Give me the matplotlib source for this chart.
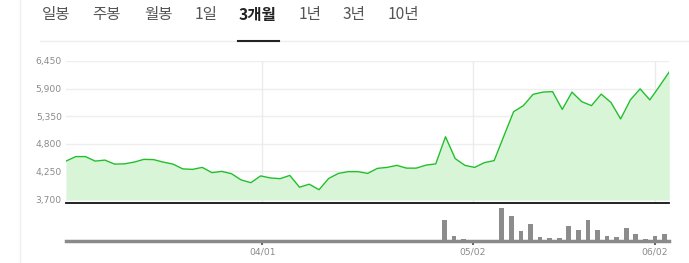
import matplotlib
matplotlib.use("Agg")
import matplotlib.pyplot as plt
import numpy as np
from matplotlib.lines import Line2D

# ---------------- data ----------------
tabs = ["일봉", "주봉", "월봉", "1일", "3개월", "1년", "3년", "10년"]
active_tab = "3개월"

prices = [4455, 4545, 4545, 4455, 4475, 4395, 4400, 4435, 4490, 4485,
          4435, 4395, 4300, 4290, 4330, 4225, 4250, 4205, 4080, 4025,
          4160, 4120, 4105, 4170, 3935, 3995, 3885, 4110, 4210, 4245,
          4245, 4210, 4310, 4330, 4370, 4315, 4315, 4375, 4400, 4940,
          4505, 4370, 4330, 4425, 4465, 4955, 5440, 5560, 5785, 5830,
          5840, 5485, 5830, 5640, 5560, 5790, 5625, 5295, 5675, 5895,
          5675, 5950, 6235]

volumes = [0] * 39 + [621, 141, 51, 30, 21, 21, 990, 750, 291, 519,
                      111, 81, 81, 450, 321, 621, 321, 141, 99, 399,
                      219, 51, 141, 210]

y_ticks = [3700, 4250, 4800, 5350, 5900, 6450]
x_tick_idx = [20, 42, 61]
x_tick_labels = ["04/01", "05/02", "06/02"]

# ---------------- figure ----------------
W, H = 689, 263
fig = plt.figure(figsize=(W / 100, H / 100), dpi=100)
fig.patch.set_facecolor("white")

def fx(px):
    return px / W

def fy(py):
    return 1 - py / H

# tab bar
tab_x = [42, 92, 144, 195, 239, 299, 343, 388]
for t, x in zip(tabs, tab_x):
    bold = t == active_tab
    fig.text(fx(x), fy(15), t, ha="left", va="center",
             fontsize=11.2, fontweight="bold" if bold else "normal",
             color="#222222" if bold else "#555555",
             family=["Noto Sans CJK KR", "DejaVu Sans"])
fig.add_artist(Line2D([fx(40), fx(689)], [fy(40.5), fy(40.5)],
                      color="#eeeeee", lw=1, transform=fig.transFigure))
fig.add_artist(Line2D([fx(238), fx(279)], [fy(40.5), fy(40.5)],
                      color="#222222", lw=1.5, transform=fig.transFigure))
fig.add_artist(Line2D([fx(20), fx(20)], [0, 1],
                      color="#eeeeee", lw=1, transform=fig.transFigure))

n = len(prices)
x = np.arange(n)
bar_x = (np.arange(n) + 0.5) * (n - 1) / n
tick_pos = bar_x[x_tick_idx]

# price axes
left, right = 66, 669.3
ax = fig.add_axes([fx(left), fy(203.3), fx(right - left), fy(61) - fy(203.3)])
ymin = 6450 - (203.3 - 61) * (2750 / 138)
ax.set_xlim(0, n - 1)
ax.set_ylim(ymin, 6450)
for yt in y_ticks:
    ax.axhline(yt, color="#eeeeee", lw=1, zorder=0)
for tp in tick_pos:
    ax.axvline(tp, color="#ebebeb", lw=1, zorder=0)
ax.fill_between(x, prices, 3680, color="#d8f5d8", lw=0, zorder=1)
ax.plot(x, prices, color="#22bf2c", lw=1.0, zorder=3)
ax.set_yticks(y_ticks)
ax.set_yticklabels([f"{v:,}" for v in y_ticks], fontsize=6.6, color="#8a8a8a")
ax.tick_params(axis="y", length=0, pad=3)
ax.set_xticks([])
for s in ["top", "left", "right"]:
    ax.spines[s].set_visible(False)
ax.spines["bottom"].set_color("#111111")
ax.spines["bottom"].set_linewidth(1.3)
ax.patch.set_alpha(0)

# volume axes
vax = fig.add_axes([fx(left), fy(240.7), fx(right - left), fy(203.3) - fy(240.7)])
vax.set_xlim(0, n - 1)
vax.set_ylim(0, max(volumes) * 1.15)
vax.bar(bar_x, volumes, width=0.48, color="#8c8c8c", lw=0)
vax.set_yticks([])
vax.set_xticks(tick_pos)
vax.set_xticklabels(x_tick_labels, fontsize=6.6, color="#8a8a8a")
vax.tick_params(axis="x", length=3, width=1.5, color="#666666", pad=2)
for s in ["top", "left", "right"]:
    vax.spines[s].set_visible(False)
vax.spines["bottom"].set_color("#8a8a8a")
vax.spines["bottom"].set_linewidth(2.5)
vax.patch.set_alpha(0)

fig.savefig("out.png", dpi=100, facecolor="white")
